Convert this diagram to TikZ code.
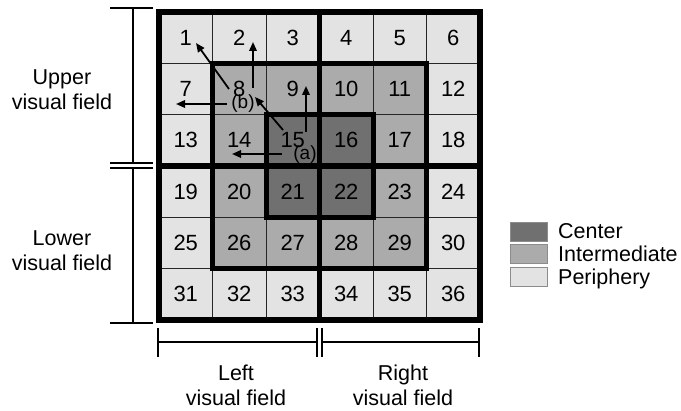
\documentclass[tikz,border=0pt]{standalone}
\usepackage{fontspec}
\setmainfont{Liberation Sans}
\usetikzlibrary{arrows.meta}
\definecolor{lev1}{gray}{0.44}
\definecolor{lev3}{gray}{0.67}
\definecolor{lev5}{gray}{0.89}
\begin{document}
\begin{tikzpicture}[x=1pt,y=-1pt,
  cell/.style={draw=black!85, line width=0.8pt, minimum width=53.5pt, minimum height=51.333pt, inner sep=0pt, outer sep=0pt, font=\fontsize{22}{24}\selectfont},
  heavy/.style={line width=5.5pt, line cap=rect},
  regionline/.style={line width=5pt, line cap=rect},
  brk/.style={line width=2pt},
  mv/.style={line width=1.8pt, -{Triangle[length=9pt,width=7.5pt]}},
  lbl/.style={font=\fontsize{21.5}{25}\selectfont, align=center, inner sep=0pt},
  tag/.style={font=\fontsize{19}{20}\selectfont, inner sep=0pt},
  legbox/.style={draw=black!45, line width=0.8pt, minimum width=37pt, minimum height=19pt, inner sep=0pt},
  legtext/.style={font=\fontsize{21.5}{25}\selectfont, anchor=base west, inner sep=0pt}
]
\useasboundingbox (0,0) rectangle (681,411);
% cells
\foreach \r in {1,...,6}{
  \foreach \c in {1,...,6}{
    \pgfmathtruncatemacro{\n}{(\r-1)*6+\c}
    \pgfmathtruncatemacro{\lev}{max(abs(2*\r-7),abs(2*\c-7))}
    \node[cell, fill=lev\lev] (c\n) at ({159+53.5*(\c-0.5)},{12+51.333*(\r-0.5)}) {\n};
  }
}
% region boundaries
\draw[regionline] (c8.north west) rectangle (c29.south east);
\draw[regionline] (c15.north west) rectangle (c22.south east);
% outer frame and midlines
\draw[heavy] (c1.north west) rectangle (c36.south east);
\draw[heavy] (c3.north east) -- (c33.south east);
\draw[heavy] (c13.south west) -- (c18.south east);
% arrows
\coordinate (s81) at (229,89);  \coordinate (e81) at (196,43);
\coordinate (s82) at (253,88);  \coordinate (e82) at (253,42);
\coordinate (sb7) at (227,104); \coordinate (eb7) at (176,104);
\coordinate (s158) at (283,130); \coordinate (e158) at (255,97);
\coordinate (s159) at (306,132); \coordinate (e159) at (306,86);
\coordinate (s1514) at (282,154); \coordinate (e1514) at (232,154);
\draw[mv] (s81) -- (e81);
\draw[mv] (s82) -- (e82);
\draw[mv] (sb7) -- (eb7);
\draw[mv] (s158) -- (e158);
\draw[mv] (s159) -- (e159);
\draw[mv] (s1514) -- (e1514);
\node[tag] (tb) at (243,104) {(b)};
\node[tag] (ta) at (305,155) {(a)};
% left bracket
\coordinate (L1a) at (110,8);   \coordinate (L1b) at (153,8);
\coordinate (L2a) at (110,163.5); \coordinate (L2b) at (153,163.5);
\coordinate (L3a) at (110,168.5); \coordinate (L3b) at (153,168.5);
\coordinate (L4a) at (110,323); \coordinate (L4b) at (153,323);
\draw[brk] (L1a) -- (L1b);
\draw[brk] (L2a) -- (L2b);
\draw[brk] (L3a) -- (L3b);
\draw[brk] (L4a) -- (L4b);
\draw[brk] (133,8) -- (133,163.5);
\draw[brk] (133,168.5) -- (133,323);
% bottom bracket
\draw[brk] (158,328) -- (158,357);
\draw[brk] (316.5,328) -- (316.5,357);
\draw[brk] (321.5,328) -- (321.5,357);
\draw[brk] (479,328) -- (479,357);
\draw[brk] (158,342) -- (316.5,342);
\draw[brk] (321.5,342) -- (479,342);
% labels
\node[lbl] (up) at (62,89.5) {Upper\\visual field};
\node[lbl] (lo) at (62,250.5) {Lower\\visual field};
\node[lbl] (le) at (236,385) {Left\\visual field};
\node[lbl] (ri) at (403,385) {Right\\visual field};
% legend
\node[legbox, fill=lev1] (k1) at (528.5,231.5) {};
\node[legbox, fill=lev3] (k2) at (528.5,254) {};
\node[legbox, fill=lev5] (k3) at (528.5,276.5) {};
\node[legtext] (t1) at (558,238.5) {Center};
\node[legtext] (t2) at (558,261.5) {Intermediate};
\node[legtext] (t3) at (558,285) {Periphery};
\end{tikzpicture}
\end{document}
